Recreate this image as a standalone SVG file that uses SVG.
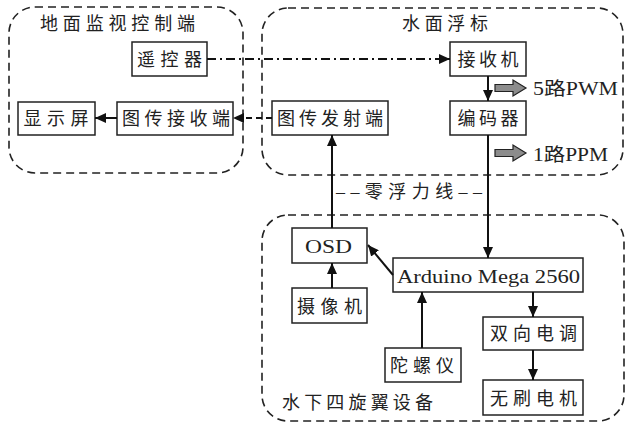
<svg xmlns="http://www.w3.org/2000/svg" width="627" height="425" viewBox="0 0 627 425">
<style>
text{font-family:"Liberation Serif","Noto Sans CJK SC",serif;font-size:18px;fill:#222;text-anchor:middle}
.box{fill:#fff;stroke:#222;stroke-width:1.5}
.region{fill:none;stroke:#222;stroke-width:1.6;stroke-dasharray:8 5}
.c{fill:none;stroke:#111;stroke-width:2}
.ga{fill:#8c8c8c;stroke:#222;stroke-width:1.2}
</style>
<defs>
<marker id="ah" markerUnits="userSpaceOnUse" markerWidth="12" markerHeight="10" refX="11" refY="5" orient="auto">
<path d="M0,0 L11,5 L0,10 z" fill="#111"/>
</marker>
</defs>
<rect width="627" height="425" fill="#fff"/>
<g id="region-ground">
<rect class="region" x="9" y="7" width="234" height="166" rx="26"/>
<text x="117.5" y="30" textLength="155" lengthAdjust="spacing">地面监视控制端</text>
</g>
<g id="region-buoy">
<rect class="region" x="262" y="8" width="361" height="167" rx="26"/>
<text x="445" y="30" textLength="86" lengthAdjust="spacing">水面浮标</text>
</g>
<g id="region-under">
<rect class="region" x="262" y="215" width="362" height="206" rx="26"/>
<text x="357.5" y="409" textLength="151" lengthAdjust="spacing">水下四旋翼设备</text>
</g>
<g id="zero-line">
<text x="409" y="198" textLength="146" lengthAdjust="spacing">––零浮力线––</text>
</g>
<g id="n-remote"><rect class="box" x="132" y="42" width="75" height="34"/><text x="169.5" y="66" textLength="65" lengthAdjust="spacing">遥控器</text></g>
<g id="n-display"><rect class="box" x="18" y="102" width="77" height="33"/><text x="56" y="125" textLength="65" lengthAdjust="spacing">显示屏</text></g>
<g id="n-vrx"><rect class="box" x="117" y="102" width="116" height="33"/><text x="176" y="125" textLength="108" lengthAdjust="spacing">图传接收端</text></g>
<g id="n-vtx"><rect class="box" x="272" y="101" width="116" height="34"/><text x="330" y="125" textLength="106" lengthAdjust="spacing">图传发射端</text></g>
<g id="n-receiver"><rect class="box" x="450" y="42" width="76" height="34"/><text x="488" y="66" textLength="61" lengthAdjust="spacing">接收机</text></g>
<g id="n-encoder"><rect class="box" x="450" y="101" width="76" height="34"/><text x="488" y="125" textLength="61" lengthAdjust="spacing">编码器</text></g>
<g id="n-osd"><rect class="box" x="292" y="228" width="75" height="35"/><text x="328.5" y="253" font-size="20" textLength="47" lengthAdjust="spacingAndGlyphs">OSD</text></g>
<g id="n-arduino"><rect class="box" x="393" y="258" width="190" height="34"/><text x="488.5" y="283" font-size="21" textLength="183" lengthAdjust="spacingAndGlyphs">Arduino Mega 2560</text></g>
<g id="n-camera"><rect class="box" x="292" y="288" width="75" height="35"/><text x="329.5" y="313" textLength="65" lengthAdjust="spacing">摄像机</text></g>
<g id="n-gyro"><rect class="box" x="385" y="348" width="76" height="34"/><text x="422" y="372" textLength="64" lengthAdjust="spacing">陀螺仪</text></g>
<g id="n-esc"><rect class="box" x="483" y="317" width="100" height="33"/><text x="533.5" y="340" textLength="87" lengthAdjust="spacing">双向电调</text></g>
<g id="n-motor"><rect class="box" x="483" y="380" width="100" height="35"/><text x="533.5" y="405" textLength="87" lengthAdjust="spacing">无刷电机</text></g>
<g id="connectors">
<line class="c" x1="207" y1="59" x2="450" y2="59" stroke-dasharray="9 4 2 4" stroke-width="1.6" marker-end="url(#ah)"/>
<line class="c" x1="272" y1="118" x2="233" y2="118" stroke-dasharray="6 4" stroke-width="1.6" marker-end="url(#ah)"/>
<line class="c" x1="117" y1="118" x2="95" y2="118" marker-end="url(#ah)"/>
<line class="c" x1="488" y1="76" x2="488" y2="101" marker-end="url(#ah)"/>
<line class="c" x1="488" y1="135" x2="488" y2="258" marker-end="url(#ah)"/>
<line class="c" x1="332" y1="228" x2="332" y2="135" marker-end="url(#ah)"/>
<line class="c" x1="332" y1="288" x2="332" y2="263" marker-end="url(#ah)"/>
<line class="c" x1="393" y1="275" x2="368" y2="245" marker-end="url(#ah)"/>
<line class="c" x1="422" y1="348" x2="422" y2="292" marker-end="url(#ah)"/>
<line class="c" x1="533" y1="292" x2="533" y2="317" marker-end="url(#ah)"/>
<line class="c" x1="533" y1="350" x2="533" y2="380" marker-end="url(#ah)"/>
</g>
<g id="out-pwm">
<path class="ga" d="M495,84.5 H513 V80 L526,88 L513,96 V91.5 H495 Z"/>
<text x="575.5" y="95" font-size="20" textLength="85" lengthAdjust="spacingAndGlyphs">5路PWM</text>
</g>
<g id="out-ppm">
<path class="ga" d="M495,149.5 H513 V145 L526,153 L513,161 V156.5 H495 Z"/>
<text x="570.5" y="161" font-size="20" textLength="75" lengthAdjust="spacingAndGlyphs">1路PPM</text>
</g>
</svg>
